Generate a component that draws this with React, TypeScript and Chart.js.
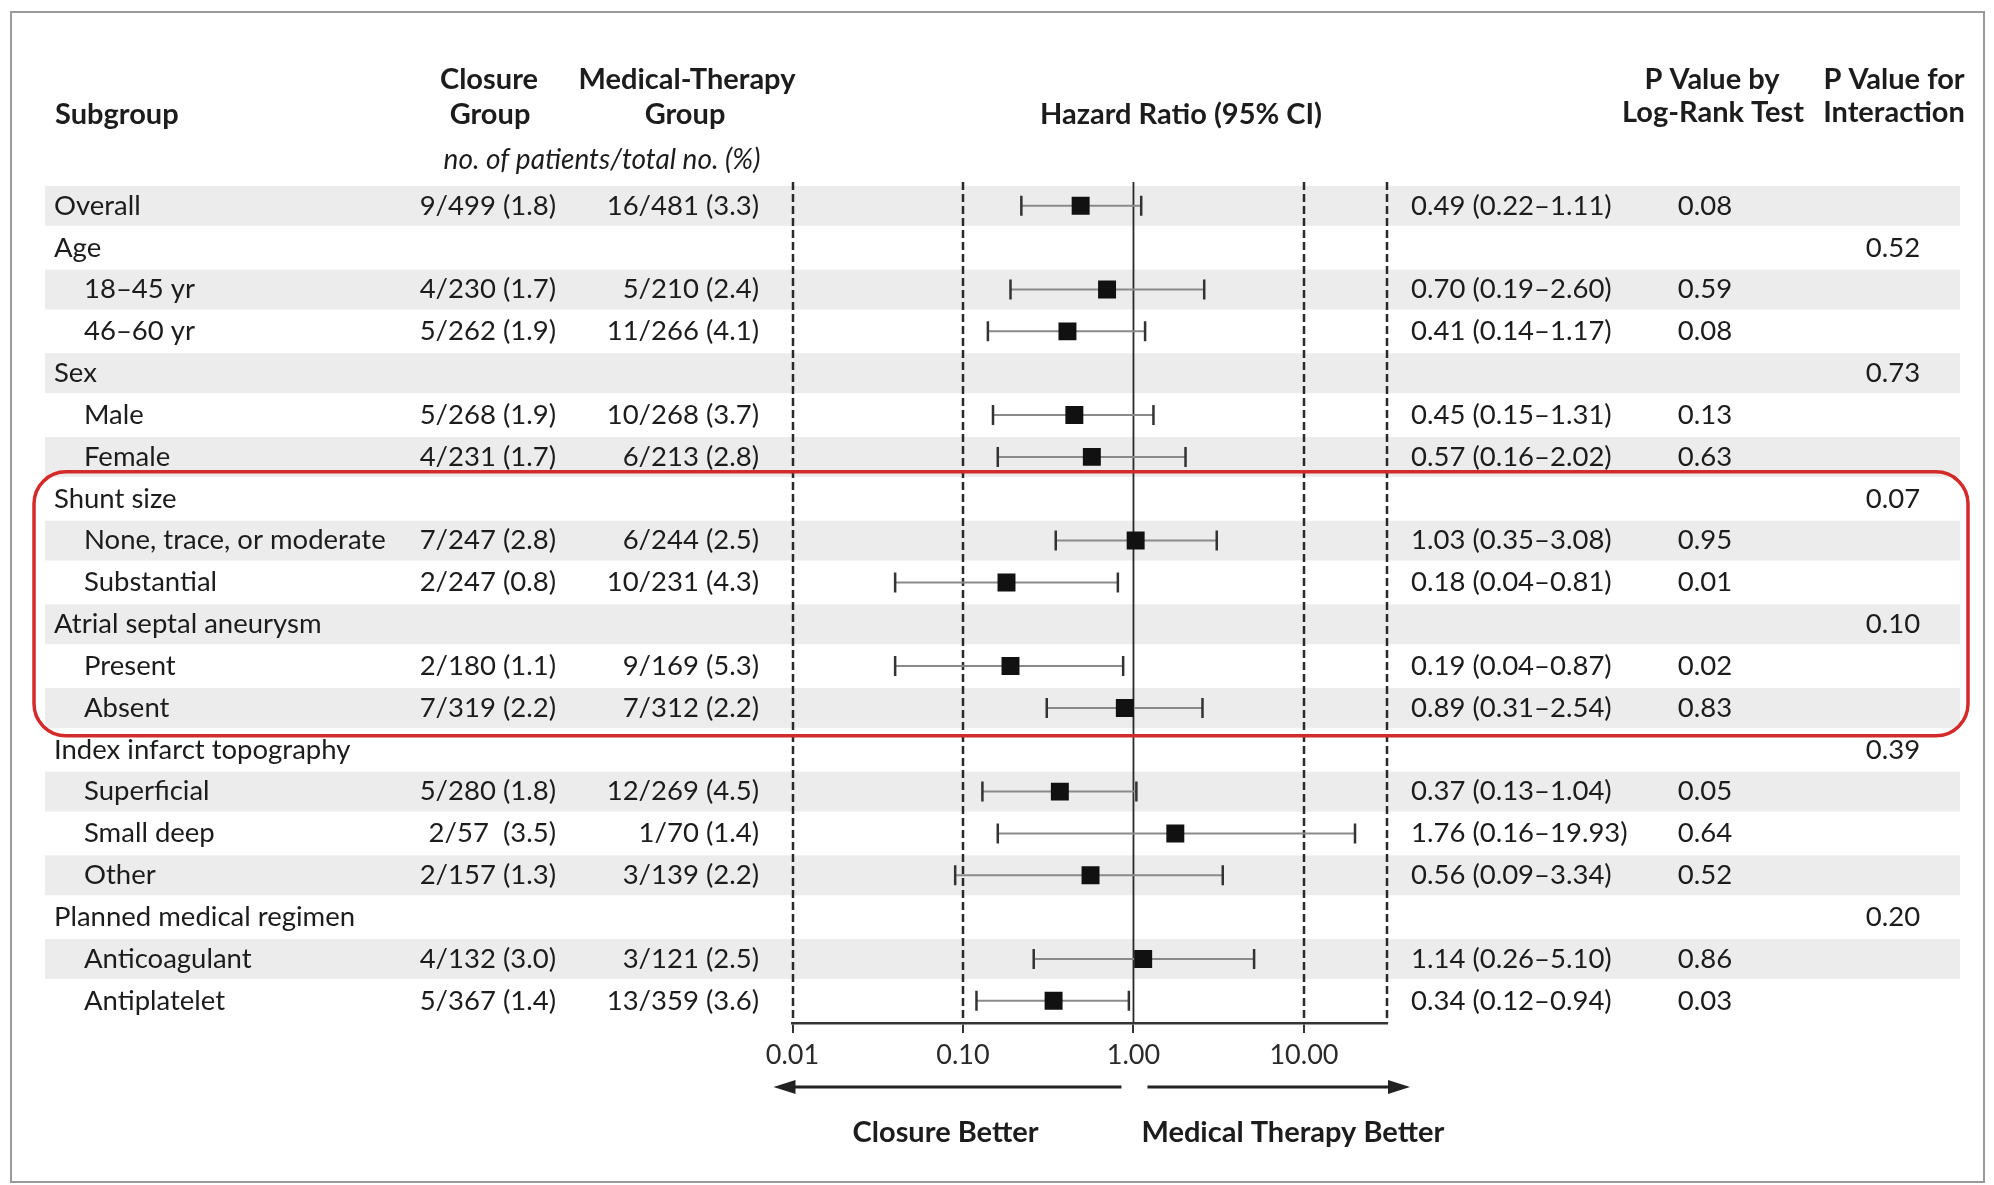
import React, { useEffect, useRef } from "react";
import { Chart, registerables } from "chart.js";
Chart.register(...registerables);

// ---------- data ----------
const subgroups = [
  "Overall", "Age", "18–45 yr", "46–60 yr", "Sex", "Male", "Female",
  "Shunt size", "None, trace, or moderate", "Substantial",
  "Atrial septal aneurysm", "Present", "Absent",
  "Index infarct topography", "Superficial", "Small deep", "Other",
  "Planned medical regimen", "Anticoagulant", "Antiplatelet",
];
const subgroupLevel = [0, 0, 1, 1, 0, 1, 1, 0, 1, 1, 0, 1, 1, 0, 1, 1, 1, 0, 1, 1];
const closureGroup = [
  "9/499 (1.8)", "", "4/230 (1.7)", "5/262 (1.9)", "", "5/268 (1.9)", "4/231 (1.7)",
  "", "7/247 (2.8)", "2/247 (0.8)", "", "2/180 (1.1)", "7/319 (2.2)",
  "", "5/280 (1.8)", "2/57  (3.5)", "2/157 (1.3)", "", "4/132 (3.0)", "5/367 (1.4)",
];
const medicalGroup = [
  "16/481 (3.3)", "", "5/210 (2.4)", "11/266 (4.1)", "", "10/268 (3.7)", "6/213 (2.8)",
  "", "6/244 (2.5)", "10/231 (4.3)", "", "9/169 (5.3)", "7/312 (2.2)",
  "", "12/269 (4.5)", "1/70 (1.4)", "3/139 (2.2)", "", "3/121 (2.5)", "13/359 (3.6)",
];
const hazardRatio = [0.49, null, 0.70, 0.41, null, 0.45, 0.57, null, 1.03, 0.18, null, 0.19, 0.89, null, 0.37, 1.76, 0.56, null, 1.14, 0.34];
const ciLower = [0.22, null, 0.19, 0.14, null, 0.15, 0.16, null, 0.35, 0.04, null, 0.04, 0.31, null, 0.13, 0.16, 0.09, null, 0.26, 0.12];
const ciUpper = [1.11, null, 2.60, 1.17, null, 1.31, 2.02, null, 3.08, 0.81, null, 0.87, 2.54, null, 1.04, 19.93, 3.34, null, 5.10, 0.94];
const pLogRank = ["0.08", "", "0.59", "0.08", "", "0.13", "0.63", "", "0.95", "0.01", "", "0.02", "0.83", "", "0.05", "0.64", "0.52", "", "0.86", "0.03"];
const pInteraction = ["", "0.52", "", "", "0.73", "", "", "0.07", "", "", "0.10", "", "", "0.39", "", "", "", "0.20", "", ""];
const xTickValues = [0.01, 0.1, 1, 10];
const xTickLabels = ["0.01", "0.10", "1.00", "10.00"];
const dashedRefValues = [0.01, 0.1, 10];
const X_MIN = 0.01;
const X_MAX = 30.7;
const highlightRows = [7, 12]; // Shunt size .. Absent

// ---------- style ----------
const FONT = 'Lato, "Open Sans", sans-serif';
const TEXT = "#1c1c1c";
const W = 1994;
const H = 1185;
const REG = `27.5px ${FONT}`;
const BOLD = `bold 29px ${FONT}`;
const ITAL = `italic 28px ${FONT}`;

function fmt(v: number) {
  return v.toFixed(2);
}

function txt(ctx: CanvasRenderingContext2D, s: string, x: number, y: number, align: CanvasTextAlign, font: string, color = TEXT) {
  ctx.font = font;
  ctx.textAlign = align;
  ctx.textBaseline = "middle";
  ctx.fillStyle = color;
  ctx.fillText(s, x, y);
}

const forestPlugin = {
  id: "forest",
  beforeDraw(chart: any) {
    const { ctx, chartArea } = chart;
    const xs = chart.scales.x;
    const ys = chart.scales.y;
    ctx.save();
    ctx.fillStyle = "#fff";
    ctx.fillRect(0, 0, W, H);
    // frame
    ctx.strokeStyle = "#9a9a9a";
    ctx.lineWidth = 2;
    ctx.strokeRect(11, 12, 1973, 1170);
    // row bands
    const rowH = Math.abs(ys.getPixelForValue(1) - ys.getPixelForValue(0));
    ctx.fillStyle = "#ececec";
    subgroups.forEach((_, i) => {
      if (i % 2 === 0) {
        const y = ys.getPixelForValue(i);
        ctx.fillRect(45, y - rowH / 2 + 1, 1915, rowH - 2);
      }
    });
    // reference lines
    ctx.strokeStyle = "#2a2a2a";
    ctx.lineWidth = 2.5;
    ctx.setLineDash([8, 4]);
    [...dashedRefValues, X_MAX].forEach((v) => {
      const x = Math.round(xs.getPixelForValue(v));
      ctx.beginPath();
      ctx.moveTo(x, chartArea.top);
      ctx.lineTo(x, chartArea.bottom);
      ctx.stroke();
    });
    ctx.setLineDash([]);
    ctx.lineWidth = 1.8;
    const x1 = xs.getPixelForValue(1);
    ctx.beginPath();
    ctx.moveTo(x1, chartArea.top);
    ctx.lineTo(x1, chartArea.bottom);
    ctx.stroke();
    ctx.restore();
  },
  beforeDatasetsDraw(chart: any) {
    const { ctx } = chart;
    const xs = chart.scales.x;
    const ys = chart.scales.y;
    ctx.save();
    hazardRatio.forEach((hr, i) => {
      if (hr == null) return;
      const y = ys.getPixelForValue(i);
      const xl = xs.getPixelForValue(ciLower[i] as number);
      const xh = xs.getPixelForValue(ciUpper[i] as number);
      ctx.strokeStyle = "#8a8a8a";
      ctx.lineWidth = 2;
      ctx.beginPath();
      ctx.moveTo(xl, y);
      ctx.lineTo(xh, y);
      ctx.stroke();
      ctx.strokeStyle = "#333";
      ctx.lineWidth = 2.5;
      ctx.beginPath();
      ctx.moveTo(xl, y - 10);
      ctx.lineTo(xl, y + 10);
      ctx.moveTo(xh, y - 10);
      ctx.lineTo(xh, y + 10);
      ctx.stroke();
    });
    ctx.restore();
  },
  afterDraw(chart: any) {
    const { ctx, chartArea } = chart;
    const xs = chart.scales.x;
    const ys = chart.scales.y;
    ctx.save();
    // headers
    txt(ctx, "Subgroup", 55, 115, "left", BOLD);
    txt(ctx, "Closure", 489, 80, "center", BOLD);
    txt(ctx, "Group", 490, 115, "center", BOLD);
    txt(ctx, "Medical-Therapy", 687, 80, "center", BOLD);
    txt(ctx, "Group", 685, 115, "center", BOLD);
    txt(ctx, "no. of patients/total no. (%)", 602, 160, "center", ITAL);
    txt(ctx, "Hazard Ratio (95% CI)", 1181, 115, "center", BOLD);
    txt(ctx, "P Value by", 1712, 80, "center", BOLD);
    txt(ctx, "Log-Rank Test", 1713, 113, "center", BOLD);
    txt(ctx, "P Value for", 1894, 80, "center", BOLD);
    txt(ctx, "Interaction", 1894, 113, "center", BOLD);
    // rows
    subgroups.forEach((label, i) => {
      const y = ys.getPixelForValue(i);
      txt(ctx, label, subgroupLevel[i] === 0 ? 54 : 84, y, "left", REG);
      if (closureGroup[i]) txt(ctx, closureGroup[i], 556, y, "right", REG);
      if (medicalGroup[i]) txt(ctx, medicalGroup[i], 759, y, "right", REG);
      const hr = hazardRatio[i];
      if (hr != null) {
        txt(ctx, `${fmt(hr)} (${fmt(ciLower[i] as number)}–${fmt(ciUpper[i] as number)})`, 1411, y, "left", REG);
      }
      if (pLogRank[i]) txt(ctx, pLogRank[i], 1705, y, "center", REG);
      if (pInteraction[i]) txt(ctx, pInteraction[i], 1893, y, "center", REG);
    });
    // direction arrows
    const x1 = xs.getPixelForValue(1);
    const ay = 1087;
    ctx.strokeStyle = "#222";
    ctx.fillStyle = "#222";
    ctx.lineWidth = 3;
    const leftTip = chartArea.left - 19;
    const rightTip = chartArea.right + 23;
    ctx.beginPath();
    ctx.moveTo(x1 - 12, ay);
    ctx.lineTo(leftTip + 18, ay);
    ctx.moveTo(x1 + 14, ay);
    ctx.lineTo(rightTip - 18, ay);
    ctx.stroke();
    ctx.beginPath();
    ctx.moveTo(leftTip, ay);
    ctx.lineTo(leftTip + 22, ay - 7);
    ctx.lineTo(leftTip + 22, ay + 7);
    ctx.closePath();
    ctx.fill();
    ctx.beginPath();
    ctx.moveTo(rightTip, ay);
    ctx.lineTo(rightTip - 22, ay - 7);
    ctx.lineTo(rightTip - 22, ay + 7);
    ctx.closePath();
    ctx.fill();
    txt(ctx, "Closure Better", x1 - 95, 1133, "right", BOLD);
    txt(ctx, "Medical Therapy Better", x1 + 8, 1133, "left", BOLD);
    // highlight box
    const top = ys.getPixelForValue(highlightRows[0] - 0.5) - 6;
    const bot = ys.getPixelForValue(highlightRows[1] + 0.5) + 7;
    ctx.strokeStyle = "#d42a2a";
    ctx.lineWidth = 3.5;
    ctx.beginPath();
    (ctx as any).roundRect(34, top, 1968 - 34, bot - top, 32);
    ctx.stroke();
    ctx.restore();
  },
};

export default function App() {
  const ref = useRef<HTMLCanvasElement>(null);
  useEffect(() => {
    const canvas = ref.current!;
    const points = hazardRatio
      .map((v, i) => (v == null ? null : { x: v, y: i }))
      .filter((p) => p !== null) as { x: number; y: number }[];
    const chart = new Chart(canvas, {
      type: "scatter",
      data: {
        datasets: [
          {
            label: "Hazard ratio",
            data: points,
            pointStyle: "rect",
            pointRadius: 12.7,
            pointHoverRadius: 12.7,
            backgroundColor: "#111",
            borderWidth: 0,
          },
        ],
      },
      options: {
        responsive: false,
        animation: false,
        devicePixelRatio: 1,
        layout: { padding: { left: 792.5, right: W - 1387, top: 182, bottom: 0 } },
        plugins: { legend: { display: false }, tooltip: { enabled: false } },
        events: [],
        scales: {
          x: {
            type: "logarithmic",
            position: "bottom",
            min: X_MIN,
            max: X_MAX,
            afterBuildTicks: (scale: any) => {
              scale.ticks = xTickValues.map((v) => ({ value: v }));
            },
            afterFit: (scale: any) => {
              scale.height = H - 1023;
            },
            ticks: {
              autoSkip: false,
              maxRotation: 0,
              padding: 6,
              color: "#2a2a2a",
              font: { family: FONT, size: 27 },
              callback: (_v: any, idx: number) => xTickLabels[idx],
            },
            grid: {
              display: true,
              drawOnChartArea: false,
              drawTicks: true,
              tickLength: 10,
              color: "#333",
              lineWidth: 2,
            },
            border: { display: true, color: "#333", width: 2.5 },
          },
          y: {
            type: "linear",
            reverse: true,
            min: -0.57,
            max: 19.53,
            display: false,
          },
        },
      },
      plugins: [forestPlugin],
    } as any);
    return () => chart.destroy();
  }, []);
  return (
    <div style={{ position: "absolute", left: 0, top: 0, width: W, height: H, background: "#fff" }}>
      <canvas ref={ref} width={W} height={H} style={{ display: "block", width: W, height: H }} />
    </div>
  );
}
